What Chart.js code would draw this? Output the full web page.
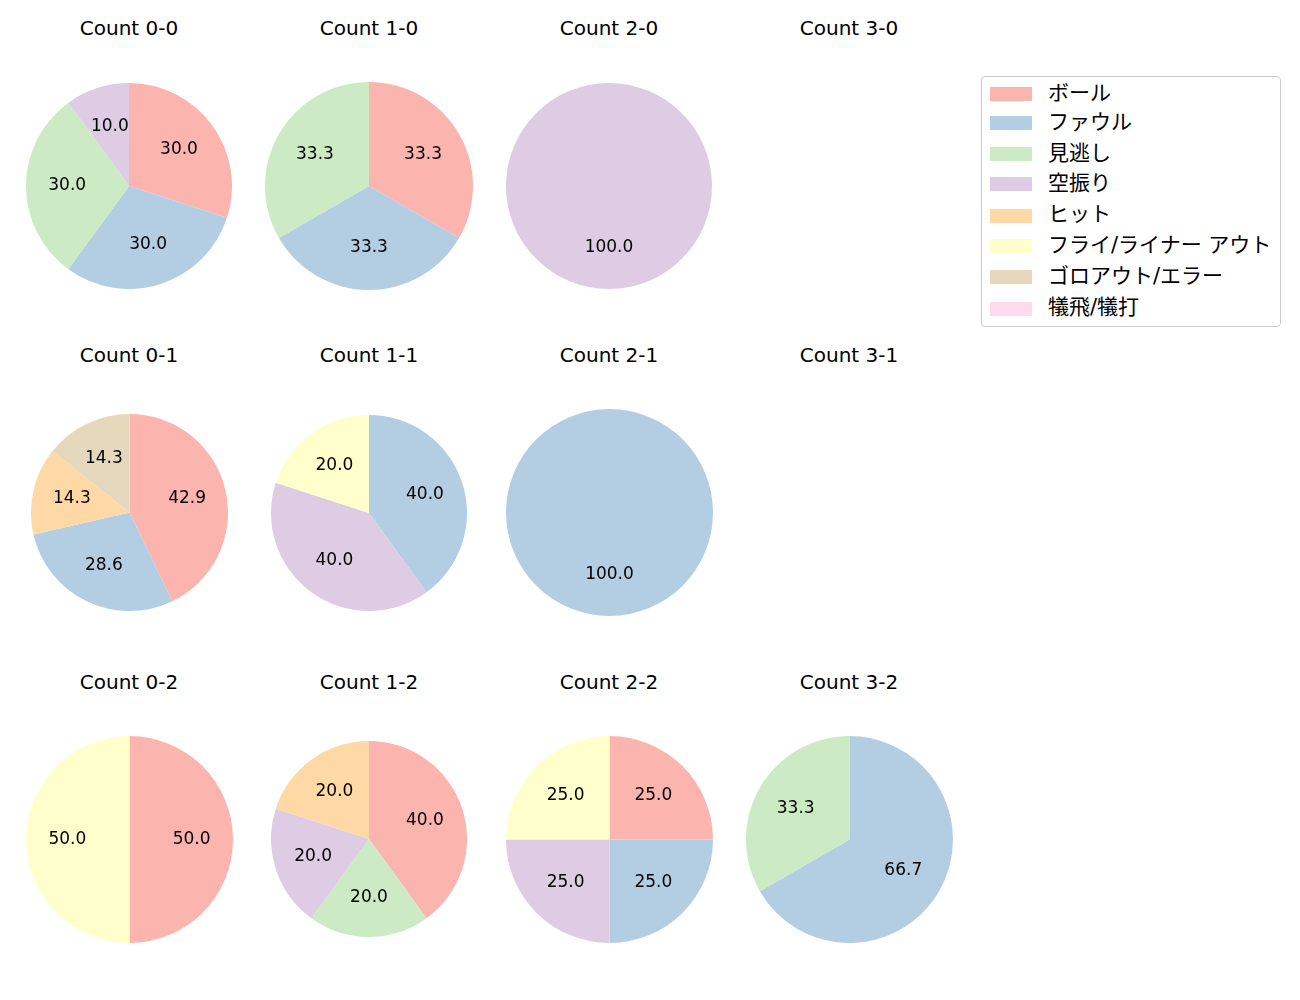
<!DOCTYPE html>
<html>
<head>
<meta charset="utf-8">
<script src="https://cdn.jsdelivr.net/npm/chart.js@4.4.1/dist/chart.umd.min.js"></script>
<style>
  html, body { margin:0; padding:0; background:#fff; }
  body { width:1300px; height:1000px; position:relative; overflow:hidden; font-family:"DejaVu Sans","Noto Sans CJK JP", sans-serif; color:#000; }
  .title { position:absolute; width:240px; text-align:center; font-size:20px; line-height:24px; white-space:nowrap; }
  canvas { position:absolute; }
  #legend { position:absolute; left:981px; top:76px; width:298px; height:249px; border:1px solid #cccccc; border-radius:4px; box-sizing:content-box; }
  .item { position:absolute; left:0; height:20px; width:298px; }
  .swatch { position:absolute; left:8px; top:3px; width:42px; height:14px; }
  .lab { position:absolute; left:66px; top:-3.5px; font-size:21px; line-height:25px; white-space:nowrap; }
</style>
</head>
<body>
<div id="legend"></div>
<script>
// ---- data ----
const categories = ['ボール','ファウル','見逃し','空振り','ヒット','フライ/ライナー アウト','ゴロアウト/エラー','犠飛/犠打'];
const colors = ['#fbb4ae','#b3cde3','#ccebc5','#decbe4','#fed9a6','#ffffcc','#e5d8bd','#fddaec'];
const countTitles = ['Count 0-0','Count 1-0','Count 2-0','Count 3-0',
                     'Count 0-1','Count 1-1','Count 2-1','Count 3-1',
                     'Count 0-2','Count 1-2','Count 2-2','Count 3-2'];
const count00 = [3,3,3,1,0,0,0,0];
const count10 = [1,1,1,0,0,0,0,0];
const count20 = [0,0,0,1,0,0,0,0];
const count30 = [];
const count01 = [3,2,0,0,1,0,1,0];
const count11 = [0,2,0,2,0,1,0,0];
const count21 = [0,1,0,0,0,0,0,0];
const count31 = [];
const count02 = [1,0,0,0,0,1,0,0];
const count12 = [2,0,1,1,1,0,0,0];
const count22 = [1,1,0,1,0,1,0,0];
const count32 = [0,2,1,0,0,0,0,0];
const allCounts = [count00,count10,count20,count30,count01,count11,count21,count31,count02,count12,count22,count32];

// ---- layout ----
const colX = [129, 369, 609, 849];
const rowY = [185.5, 512.5, 839];
const titleY = [16, 343, 670];
const radii = [103,104,103,103, 98.5,98,103.5,103, 103.5,98,103.5,103.5];
const LABEL_FS = 17;

const pctLabels = {
  id: 'pctLabels',
  afterDatasetsDraw(chart) {
    const ctx = chart.ctx;
    const ds = chart.data.datasets[0].data;
    const total = ds.reduce((a,b)=>a+b,0);
    const meta = chart.getDatasetMeta(0);
    ctx.save();
    ctx.font = LABEL_FS + 'px "DejaVu Sans"';
    ctx.fillStyle = '#000';
    ctx.textAlign = 'center';
    ctx.textBaseline = 'alphabetic';
    meta.data.forEach((arc, i) => {
      if (!ds[i]) return;
      const p = arc.getProps(['x','y','startAngle','endAngle','outerRadius'], true);
      const mid = (p.startAngle + p.endAngle) / 2;
      const rr = p.outerRadius * 0.6;
      ctx.fillText((ds[i] / total * 100).toFixed(1), p.x + Math.cos(mid) * rr, p.y + Math.sin(mid) * rr + 0.24 * LABEL_FS);
    });
    ctx.restore();
  }
};

allCounts.forEach((vals, k) => {
  const c = k % 4, r = Math.floor(k / 4);
  const t = document.createElement('div');
  t.className = 'title';
  t.style.left = (colX[c] - 120) + 'px';
  t.style.top = titleY[r] + 'px';
  t.textContent = countTitles[k];
  document.body.appendChild(t);
  if (!vals.length) return;
  const R = radii[k];
  const size = Math.round(2 * R);
  const cv = document.createElement('canvas');
  cv.width = size; cv.height = size;
  cv.style.width = size + 'px'; cv.style.height = size + 'px';
  cv.style.left = (colX[c] - size / 2) + 'px';
  cv.style.top = (rowY[r] - size / 2) + 'px';
  document.body.appendChild(cv);
  new Chart(cv, {
    type: 'pie',
    data: { labels: categories, datasets: [{ data: vals, backgroundColor: colors, borderWidth: 0 }] },
    options: {
      responsive: false, animation: false, devicePixelRatio: 1, events: [],
      layout: { padding: 0 },
      plugins: { legend: { display: false }, tooltip: { enabled: false } }
    },
    plugins: [pctLabels]
  });
});

// legend
const lg = document.getElementById('legend');
const itemY = [17.3, 46, 77.3, 107.3, 138.5, 169, 200, 231.5];
categories.forEach((name, i) => {
  const it = document.createElement('div');
  it.className = 'item';
  it.style.top = (itemY[i] - 10) + 'px';
  it.innerHTML = '<div class="swatch" style="background:' + colors[i] + '"></div><div class="lab"></div>';
  it.querySelector('.lab').textContent = name;
  lg.appendChild(it);
});
</script>
</body>
</html>
